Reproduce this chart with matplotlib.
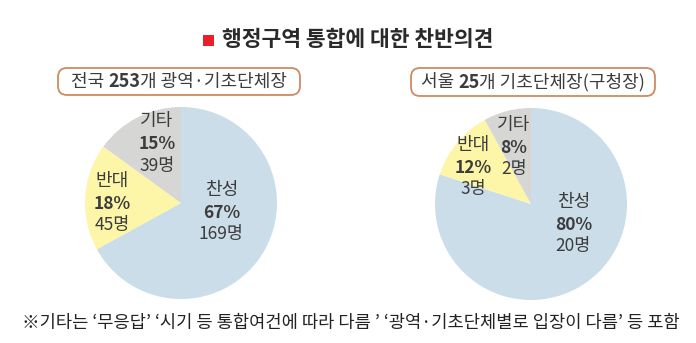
import matplotlib.pyplot as plt
from matplotlib.patches import FancyBboxPatch, Rectangle

plt.rcParams['font.family'] = ['Noto Sans CJK KR', 'DejaVu Sans']

categories = ["찬성", "반대", "기타"]
colors = ["#cbdde8", "#fdf6a8", "#d6d6d4"]

nation_pct = [67, 18, 15]
nation_cnt = [169, 45, 39]
seoul_pct = [80, 12, 8]
seoul_cnt = [20, 3, 2]

title = "행정구역 통합에 대한 찬반의견"
footnote = "※기타는 ‘무응답’ ‘시기 등 통합여건에 따라 다름 ’ ‘광역·기초단체별로 입장이 다름’ 등 포함"

W, H = 696, 343
fig = plt.figure(figsize=(W / 100, H / 100), dpi=100)
txt = "#3c3c3c"


def pie_axes(cx, cy, r):
    ax = fig.add_axes([(cx - r) / W, 1 - (cy + r) / H, 2 * r / W, 2 * r / H])
    return ax


def draw_pie(ax, pct, cnt, label_pos):
    ax.pie(pct, colors=colors, startangle=90, counterclock=False, radius=1,
           center=(0, 0), frame=False)
    ax.set_xlim(-1, 1)
    ax.set_ylim(-1, 1)
    ax.axis("off")
    for cat, p, c, (x, y) in zip(categories, pct, cnt, label_pos):
        ax.text(x, y, cat, ha="center", va="center", fontsize=13, color=txt)
        ax.text(x, y - 0.24, f"{p}%", ha="center", va="center", fontsize=12.5,
                color=txt, fontweight="bold")
        ax.text(x, y - 0.46, f"{c}명", ha="center", va="center", fontsize=12.5,
                color=txt)


ax1 = pie_axes(181, 203, 96)
draw_pie(ax1, nation_pct, nation_cnt, [(0.42, 0.14), (-0.72, 0.23), (-0.25, 0.85)])

ax2 = pie_axes(531, 204, 96)
draw_pie(ax2, seoul_pct, seoul_cnt, [(0.44, 0.02), (-0.6, 0.62), (-0.18, 0.82)])

# overlay axes in pixel units for title, header boxes and footnote
ov = fig.add_axes([0, 0, 1, 1])
ov.set_xlim(0, W)
ov.set_ylim(H, 0)
ov.axis("off")
ov.patch.set_alpha(0)

ov.text(222, 40, title, ha="left", va="center", fontsize=15.5,
        fontweight="bold", color="#2a2a2a")
ov.add_patch(Rectangle((203, 35), 11, 11, facecolor="#e8202a", edgecolor="none"))

fig.canvas.draw()
renderer = fig.canvas.get_renderer()


def header(x0, x1, y0, y1, parts):
    ov.add_patch(FancyBboxPatch((x0, y0), x1 - x0, y1 - y0,
                                boxstyle="round,pad=0,rounding_size=9",
                                facecolor="white", edgecolor="#cf8a60", linewidth=1.3))
    pieces = []
    for s, bold in parts:
        t = ov.text(0, 0, s, fontsize=13, color=txt, va="center",
                    fontweight="bold" if bold else "normal")
        pieces.append(t)
    widths = [t.get_window_extent(renderer).width for t in pieces]
    x = (x0 + x1) / 2 - sum(widths) / 2
    for t, w in zip(pieces, widths):
        t.set_position((x, (y0 + y1) / 2))
        x += w


header(58, 300, 68, 95, [("전국 ", False), ("253", True), ("개 광역·기초단체장", False)])
header(411, 655, 68, 96, [("서울 ", False), ("25", True), ("개 기초단체장(구청장)", False)])

fn = ov.text(22, 323, footnote, ha="left", va="center", fontsize=11.5, color="#222222")
w = fn.get_window_extent(renderer).width
fn.set_fontsize(11.5 * 658 / w)

fig.savefig("out.png", dpi=100)
